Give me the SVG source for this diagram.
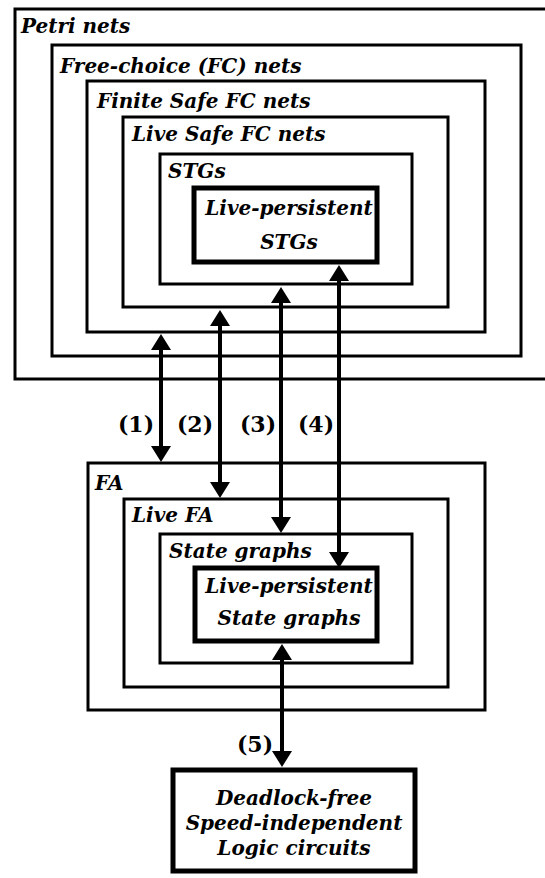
<svg xmlns="http://www.w3.org/2000/svg" width="545" height="878" viewBox="0 0 545 878">
<style>
.box{fill:none;stroke:#000;stroke-width:3}
.thick{fill:none;stroke:#000;stroke-width:5}
.lbl{font-family:"DejaVu Serif","Liberation Serif",serif;font-weight:bold;font-style:italic;font-size:20px;fill:#000}
.num{font-family:"DejaVu Serif","Liberation Serif",serif;font-weight:bold;font-size:22px;fill:#000;text-anchor:middle}
.mid{text-anchor:middle}
.arr{stroke:#000;stroke-width:4;fill:none;marker-start:url(#ah);marker-end:url(#ah)}
</style>
<defs>
<marker id="ah" viewBox="0 0 16 20" refX="2" refY="10" markerWidth="16" markerHeight="20" markerUnits="userSpaceOnUse" orient="auto-start-reverse">
<path d="M0,0 L16,10 L0,20 z" fill="#000"/>
</marker>
</defs>
<rect width="545" height="878" fill="#fff"/>
<g id="petri"><rect class="box" x="15" y="9" width="545" height="370"/><text class="lbl" x="21" y="33">Petri nets</text></g>
<g id="fc"><rect class="box" x="52" y="45" width="469" height="311"/><text class="lbl" x="60" y="73">Free-choice (FC) nets</text></g>
<g id="finite"><rect class="box" x="87" y="81" width="398" height="251"/><text class="lbl" x="97" y="108">Finite Safe FC nets</text></g>
<g id="livesafe"><rect class="box" x="123" y="117" width="325" height="190"/><text class="lbl" x="132" y="141">Live Safe FC nets</text></g>
<g id="stgs"><rect class="box" x="160" y="154" width="252" height="130"/><text class="lbl" x="168" y="178">STGs</text></g>
<g id="lpstgs"><rect class="thick" x="194" y="188" width="183" height="74"/><text class="lbl mid" x="289" y="215">Live-persistent</text><text class="lbl mid" x="289" y="249">STGs</text></g>
<g id="fa"><rect class="box" x="88" y="463" width="397" height="247"/><text class="lbl" x="95" y="490">FA</text></g>
<g id="livefa"><rect class="box" x="124" y="499" width="324" height="188"/><text class="lbl" x="132" y="522">Live FA</text></g>
<g id="sg"><rect class="box" x="160" y="534" width="252" height="129"/><text class="lbl" x="169" y="558">State graphs</text></g>
<g id="lpsg"><rect class="thick" x="195" y="568" width="182" height="73"/><text class="lbl mid" x="289" y="593">Live-persistent</text><text class="lbl mid" x="289" y="625">State graphs</text></g>
<g id="circuits"><rect class="thick" x="173" y="770" width="242" height="101"/><text class="lbl mid" x="294" y="805">Deadlock-free</text><text class="lbl mid" x="294" y="830">Speed-independent</text><text class="lbl mid" x="294" y="855">Logic circuits</text></g>
<g id="connectors">
<line class="arr" x1="161" y1="348" x2="161" y2="448"/>
<line class="arr" x1="220" y1="324" x2="220" y2="484"/>
<line class="arr" x1="281" y1="301" x2="281" y2="519"/>
<line class="arr" x1="339" y1="279" x2="339" y2="554"/>
<line class="arr" x1="282" y1="658" x2="282" y2="753"/>
<text class="num" x="136" y="432">(1)</text>
<text class="num" x="195" y="432">(2)</text>
<text class="num" x="258" y="432">(3)</text>
<text class="num" x="316" y="432">(4)</text>
<text class="num" x="255" y="752">(5)</text>
</g>
</svg>
